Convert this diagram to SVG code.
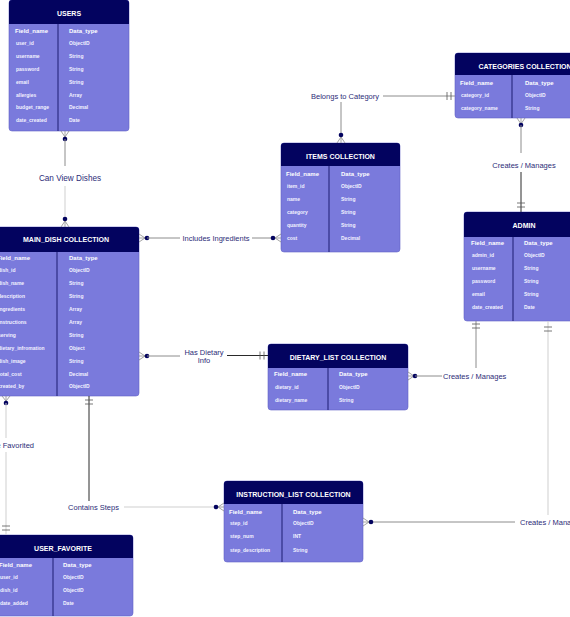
<svg xmlns="http://www.w3.org/2000/svg" width="570" height="617" viewBox="0 0 570 617">
<style>
.body{fill:#7a7adc;stroke:#6363c8;stroke-width:0.6}
.head{fill:#03035f}
.div{stroke:#1c1c72;stroke-width:1}
.title{font-family:"Liberation Sans",Arial,sans-serif;font-size:7px;font-weight:bold;fill:#ffffff;text-anchor:middle}
.colh{font-family:"Liberation Sans",Arial,sans-serif;font-size:6px;font-weight:bold;fill:#ffffff}
.cell{font-family:"Liberation Sans",Arial,sans-serif;font-size:5px;font-weight:bold;fill:#f2f2ff}
.lbl{font-family:"Liberation Sans",Arial,sans-serif;font-size:7.5px;fill:#2c2c78}
.ln{stroke:#8c8c8c;stroke-width:1;fill:none}
.lt{stroke:#cfcfcf;stroke-width:1;fill:none}
.dk{stroke:#2a2a2a;stroke-width:1;fill:none}
.ft{stroke:#8a8a8a;stroke-width:0.8;fill:none}
.bar{stroke:#555555;stroke-width:0.8}
.dot{fill:#03035f}
</style>

<g id="users">
<rect class="body" x="9" y="0" width="120" height="131" rx="3"/>
<path class="head" d="M9,24 V3 Q9,0 12,0 H126 Q129,0 129,3 V24 Z"/>
<line class="div" x1="58" y1="24" x2="58" y2="131"/>
<text class="title" x="69" y="15.5">USERS</text>
<text class="colh" x="15" y="33.2">Field_name</text><text class="colh" x="69" y="33.2">Data_type</text>
<text class="cell" x="16" y="44.8">user_id</text><text class="cell" x="69" y="44.8">ObjectID</text>
<text class="cell" x="16" y="57.8">username</text><text class="cell" x="69" y="57.8">String</text>
<text class="cell" x="16" y="70.8">password</text><text class="cell" x="69" y="70.8">String</text>
<text class="cell" x="16" y="83.8">email</text><text class="cell" x="69" y="83.8">String</text>
<text class="cell" x="16" y="96.8">allergies</text><text class="cell" x="69" y="96.8">Array</text>
<text class="cell" x="16" y="108.8">budget_range</text><text class="cell" x="69" y="108.8">Decimal</text>
<text class="cell" x="16" y="121.8">date_created</text><text class="cell" x="69" y="121.8">Date</text>
</g>

<g id="categories">
<rect class="body" x="455" y="53" width="140" height="65" rx="3"/>
<path class="head" d="M455,75 V56 Q455,53 458,53 H592 Q595,53 595,56 V75 Z"/>
<line class="div" x1="512" y1="75" x2="512" y2="118"/>
<text class="title" x="525" y="68.5">CATEGORIES COLLECTION</text>
<text class="colh" x="460" y="85.2">Field_name</text><text class="colh" x="525" y="85.2">Data_type</text>
<text class="cell" x="461" y="96.8">category_id</text><text class="cell" x="525" y="96.8">ObjectID</text>
<text class="cell" x="461" y="109.8">category_name</text><text class="cell" x="525" y="109.8">String</text>
</g>

<g id="items">
<rect class="body" x="281" y="143" width="119" height="109" rx="3"/>
<path class="head" d="M281,166 V146 Q281,143 284,143 H397 Q400,143 400,146 V166 Z"/>
<line class="div" x1="329" y1="166" x2="329" y2="252"/>
<text class="title" x="340.5" y="158.5">ITEMS COLLECTION</text>
<text class="colh" x="286" y="176.2">Field_name</text><text class="colh" x="341" y="176.2">Data_type</text>
<text class="cell" x="287" y="187.8">item_id</text><text class="cell" x="341" y="187.8">ObjectID</text>
<text class="cell" x="287" y="200.8">name</text><text class="cell" x="341" y="200.8">String</text>
<text class="cell" x="287" y="213.8">category</text><text class="cell" x="341" y="213.8">String</text>
<text class="cell" x="287" y="226.8">quantity</text><text class="cell" x="341" y="226.8">String</text>
<text class="cell" x="287" y="239.8">cost</text><text class="cell" x="341" y="239.8">Decimal</text>
</g>

<g id="admin">
<rect class="body" x="464" y="212" width="120" height="109" rx="3"/>
<path class="head" d="M464,237 V215 Q464,212 467,212 H581 Q584,212 584,215 V237 Z"/>
<line class="div" x1="513" y1="237" x2="513" y2="321"/>
<text class="title" x="524" y="227.5">ADMIN</text>
<text class="colh" x="471" y="245.2">Field_name</text><text class="colh" x="524" y="245.2">Data_type</text>
<text class="cell" x="472" y="256.8">admin_id</text><text class="cell" x="524" y="256.8">ObjectID</text>
<text class="cell" x="472" y="269.8">username</text><text class="cell" x="524" y="269.8">String</text>
<text class="cell" x="472" y="282.8">password</text><text class="cell" x="524" y="282.8">String</text>
<text class="cell" x="472" y="295.8">email</text><text class="cell" x="524" y="295.8">String</text>
<text class="cell" x="472" y="308.8">date_created</text><text class="cell" x="524" y="308.8">Date</text>
</g>

<g id="main_dish">
<rect class="body" x="-7" y="227" width="146" height="169" rx="3"/>
<path class="head" d="M-7,252 V230 Q-7,227 -4,227 H136 Q139,227 139,230 V252 Z"/>
<line class="div" x1="57" y1="252" x2="57" y2="396"/>
<text class="title" x="66" y="241.5">MAIN_DISH COLLECTION</text>
<text class="colh" x="-3" y="260.2">Field_name</text><text class="colh" x="69" y="260.2">Data_type</text>
<text class="cell" x="-2" y="271.8">dish_id</text><text class="cell" x="69" y="271.8">ObjectID</text>
<text class="cell" x="-2" y="284.8">dish_name</text><text class="cell" x="69" y="284.8">String</text>
<text class="cell" x="-2" y="297.8">description</text><text class="cell" x="69" y="297.8">String</text>
<text class="cell" x="-2" y="310.8">ingredients</text><text class="cell" x="69" y="310.8">Array</text>
<text class="cell" x="-2" y="323.8">instructions</text><text class="cell" x="69" y="323.8">Array</text>
<text class="cell" x="-2" y="336.8">serving</text><text class="cell" x="69" y="336.8">String</text>
<text class="cell" x="-2" y="349.8">dietary_infromation</text><text class="cell" x="69" y="349.8">Object</text>
<text class="cell" x="-2" y="362.8">dish_image</text><text class="cell" x="69" y="362.8">String</text>
<text class="cell" x="-2" y="375.8">total_cost</text><text class="cell" x="69" y="375.8">Decimal</text>
<text class="cell" x="-2" y="387.8">created_by</text><text class="cell" x="69" y="387.8">ObjectID</text>
</g>

<g id="dietary_list">
<rect class="body" x="268" y="344" width="140" height="66" rx="3"/>
<path class="head" d="M268,368 V347 Q268,344 271,344 H405 Q408,344 408,347 V368 Z"/>
<line class="div" x1="328" y1="368" x2="328" y2="410"/>
<text class="title" x="338" y="359.5">DIETARY_LIST COLLECTION</text>
<text class="colh" x="274" y="376.2">Field_name</text><text class="colh" x="339" y="376.2">Data_type</text>
<text class="cell" x="275" y="388.8">dietary_id</text><text class="cell" x="339" y="388.8">ObjectID</text>
<text class="cell" x="275" y="401.8">dietary_name</text><text class="cell" x="339" y="401.8">String</text>
</g>

<g id="instruction_list">
<rect class="body" x="224" y="481" width="139" height="81" rx="3"/>
<path class="head" d="M224,504 V484 Q224,481 227,481 H360 Q363,481 363,484 V504 Z"/>
<line class="div" x1="282" y1="504" x2="282" y2="562"/>
<text class="title" x="293.5" y="496.5">INSTRUCTION_LIST COLLECTION</text>
<text class="colh" x="229" y="514.2">Field_name</text><text class="colh" x="293" y="514.2">Data_type</text>
<text class="cell" x="230" y="524.8">step_id</text><text class="cell" x="293" y="524.8">ObjectID</text>
<text class="cell" x="230" y="538.3">step_num</text><text class="cell" x="293" y="538.3">INT</text>
<text class="cell" x="230" y="551.8">step_description</text><text class="cell" x="293" y="551.8">String</text>
</g>

<g id="user_favorite">
<rect class="body" x="-7" y="535" width="140" height="81" rx="3"/>
<path class="head" d="M-7,558 V538 Q-7,535 -4,535 H130 Q133,535 133,538 V558 Z"/>
<line class="div" x1="53" y1="558" x2="53" y2="616"/>
<text class="title" x="63" y="550.5">USER_FAVORITE</text>
<text class="colh" x="-1" y="567.2">Field_name</text><text class="colh" x="63" y="567.2">Data_type</text>
<text class="cell" x="0" y="578.8">user_id</text><text class="cell" x="63" y="578.8">ObjectID</text>
<text class="cell" x="0" y="591.8">dish_id</text><text class="cell" x="63" y="591.8">ObjectID</text>
<text class="cell" x="0" y="604.8">date_added</text><text class="cell" x="63" y="604.8">Date</text>
</g>

<g id="connectors">
<!-- USERS - MAIN_DISH -->
<path class="ft" d="M61,131 L65,137 M65,131 L65,137 M69,131 L65,137"/>
<circle class="dot" cx="65" cy="139" r="2.3"/>
<line class="ln" x1="65" y1="139" x2="65" y2="166"/>
<text class="lbl" x="70" y="180.8" text-anchor="middle" style="font-size:8.2px">Can View Dishes</text>
<line class="lt" x1="65" y1="186" x2="65" y2="219"/>
<circle class="dot" cx="65" cy="219" r="2.3"/>
<path class="ft" d="M61,227 L65,221 M65,227 L65,221 M69,227 L65,221"/>

<!-- Belongs to Category -->
<text class="lbl" x="379" y="98.5" text-anchor="end">Belongs to Category</text>
<line class="ln" x1="383" y1="96" x2="455" y2="96"/>
<line class="bar" x1="447" y1="92" x2="447" y2="100"/>
<line class="bar" x1="451" y1="92" x2="451" y2="100"/>
<line class="ln" x1="341" y1="102" x2="341" y2="135"/>
<circle class="dot" cx="341" cy="135" r="2.3"/>
<path class="ft" d="M337,143 L341,137 M341,143 L341,137 M345,143 L341,137"/>

<!-- CATEGORIES - ADMIN -->
<path class="ft" d="M517,118 L521,124 M521,118 L521,124 M525,118 L521,124"/>
<circle class="dot" cx="521" cy="125" r="2.3"/>
<line class="ln" x1="521" y1="125" x2="521" y2="153"/>
<text class="lbl" x="524" y="167.5" text-anchor="middle">Creates / Manages</text>
<line class="dk" x1="521" y1="172" x2="521" y2="212"/>
<line class="bar" x1="517" y1="203" x2="525" y2="203"/>
<line class="bar" x1="517" y1="207" x2="525" y2="207"/>

<!-- Includes Ingredients -->
<path class="ft" d="M139,234 L145,238 M139,238 L145,238 M139,242 L145,238"/>
<circle class="dot" cx="147" cy="238" r="2.3"/>
<line class="ln" x1="147" y1="238" x2="180" y2="238"/>
<text class="lbl" x="216" y="240.5" text-anchor="middle">Includes Ingredients</text>
<line class="ln" x1="252" y1="238" x2="273" y2="238"/>
<circle class="dot" cx="273" cy="238" r="2.3"/>
<path class="ft" d="M281,234 L275,238 M281,238 L275,238 M281,242 L275,238"/>

<!-- Has Dietary Info -->
<path class="ft" d="M139,352 L145,356 M139,356 L145,356 M139,360 L145,356"/>
<circle class="dot" cx="147" cy="356" r="2.3"/>
<line class="ln" x1="147" y1="356" x2="180" y2="356"/>
<text class="lbl" x="204" y="354.5" text-anchor="middle">Has Dietary</text>
<text class="lbl" x="204" y="363" text-anchor="middle">Info</text>
<line class="dk" x1="227" y1="355.5" x2="268" y2="355.5"/>
<line class="bar" x1="260" y1="351.5" x2="260" y2="359.5"/>
<line class="bar" x1="264" y1="351.5" x2="264" y2="359.5"/>

<!-- DIETARY_LIST - ADMIN -->
<path class="ft" d="M408,372 L414,376 M408,376 L414,376 M408,380 L414,376"/>
<circle class="dot" cx="415" cy="376" r="2.3"/>
<line class="ln" x1="415" y1="376" x2="442" y2="376"/>
<text class="lbl" x="443" y="378.5">Creates / Manages</text>
<line class="ln" x1="476" y1="321" x2="476" y2="368"/>
<line class="bar" x1="472" y1="324" x2="480" y2="324"/>
<line class="bar" x1="472" y1="328" x2="480" y2="328"/>

<!-- ADMIN - INSTRUCTION_LIST -->
<line class="lt" x1="548" y1="321" x2="548" y2="515"/>
<line class="bar" x1="544" y1="327" x2="552" y2="327"/>
<line class="bar" x1="544" y1="331" x2="552" y2="331"/>
<text class="lbl" x="520" y="524.5">Creates / Manages</text>
<line class="ln" x1="371" y1="522" x2="515" y2="522"/>
<circle class="dot" cx="371" cy="522" r="2.3"/>
<path class="ft" d="M363,518 L369,522 M363,522 L369,522 M363,526 L369,522"/>

<!-- Contains Steps -->
<line class="dk" x1="89" y1="396" x2="89" y2="501"/>
<line class="bar" x1="85" y1="400" x2="93" y2="400"/>
<line class="bar" x1="85" y1="404" x2="93" y2="404"/>
<text class="lbl" x="93.5" y="509.5" text-anchor="middle">Contains Steps</text>
<line class="lt" x1="124" y1="507" x2="216" y2="507"/>
<circle class="dot" cx="216" cy="507" r="2.3"/>
<path class="ft" d="M224,503 L218,507 M224,507 L218,507 M224,511 L218,507"/>

<!-- Be Favorited -->
<path class="ft" d="M2,396 L6,401 M6,396 L6,401 M10,396 L6,401"/>
<circle class="dot" cx="6" cy="403" r="2.3"/>
<line class="lt" x1="6" y1="403" x2="6" y2="438"/>
<text class="lbl" x="34" y="447.5" text-anchor="end">Can Be Favorited</text>
<line class="lt" x1="6" y1="452" x2="6" y2="535"/>
<line class="bar" x1="2" y1="526" x2="10" y2="526"/>
<line class="bar" x1="2" y1="530" x2="10" y2="530"/>
</g>
</svg>
